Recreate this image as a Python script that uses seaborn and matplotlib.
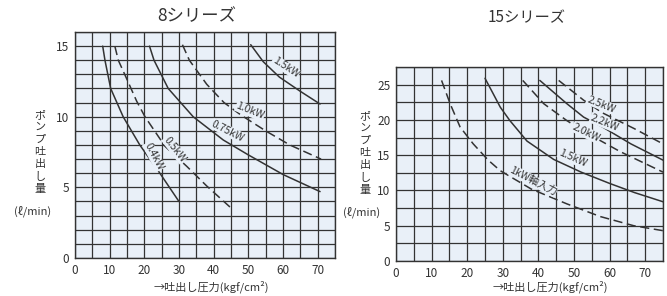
import matplotlib
matplotlib.use("Agg")
import matplotlib.pyplot as plt
from matplotlib.ticker import MultipleLocator
import seaborn as sns
import pandas as pd

# 8シリーズ  (吐出し圧力 kgf/cm², 吐出量 ℓ/min)
s8_04_x = [8.0, 8.65, 10.3, 13.9, 18.7, 24.5, 30.0]
s8_04_y = [15.0, 14.0, 12.0, 10.0, 8.0, 6.0, 4.0]
s8_05_x = [11.5, 12.5, 14.9, 17.8, 20.2, 26.0, 32.2, 38.0, 45.2]
s8_05_y = [15.0, 14.0, 12.7, 11.1, 10.0, 7.9, 6.5, 5.1, 3.5]
s8_075_x = [21.5, 22.8, 26.9, 34.1, 42.8, 50.0, 60.1, 70.7]
s8_075_y = [15.0, 14.0, 12.0, 10.0, 8.35, 7.3, 5.9, 4.7]
s8_10_x = [31.0, 33.0, 38.0, 43.0, 48.0, 55.0, 62.0, 71.0]
s8_10_y = [15.1, 14.0, 12.3, 11.0, 10.1, 9.0, 8.0, 7.0]
s8_15_x = [50.7, 54.3, 59.0, 65.0, 70.7]
s8_15_y = [15.1, 13.9, 12.8, 11.8, 10.9]

# 15シリーズ
s15_1_x = [12.8, 15.2, 18.0, 21.7, 25.9, 29.3, 38.0, 48.0, 57.4, 66.8, 75.0]
s15_1_y = [25.6, 22.3, 19.0, 16.6, 14.3, 12.8, 10.2, 8.1, 6.3, 5.0, 4.3]
s15_15_x = [25.0, 27.0, 29.3, 32.0, 36.8, 44.3, 52.0, 60.0, 67.0, 75.0]
s15_15_y = [25.9, 24.0, 21.8, 19.9, 17.0, 14.4, 12.6, 11.0, 9.7, 8.4]
s15_20_x = [35.6, 41.5, 48.0, 53.0, 63.0, 75.0]
s15_20_y = [25.6, 22.3, 19.9, 18.3, 15.5, 12.6]
s15_22_x = [40.4, 48.0, 52.7, 58.0, 66.0, 75.0]
s15_22_y = [25.6, 22.3, 20.4, 19.0, 16.6, 14.3]
s15_25_x = [45.7, 52.7, 58.0, 66.8, 75.0]
s15_25_y = [25.6, 22.8, 21.0, 18.8, 16.6]

x_ticks = [0, 10, 20, 30, 40, 50, 60, 70]
s8_yticks = [0, 5, 10, 15]
s15_yticks = [0, 5, 10, 15, 20, 25]

# (x, y, 文字, 回転)
s8_labels = [(60.8, 13.5, "1.5kW", -33), (50.5, 10.4, "1.0kW", -22),
             (44.0, 9.0, "0.75kW", -27), (28.8, 7.7, "0.5kW", -52),
             (22.8, 7.2, "0.4kW", -62)]
s15_labels = [(57.6, 22.2, "2.5kW", -22), (58.6, 19.6, "2.2kW", -22),
              (53.4, 18.2, "2.0kW", -26), (49.6, 14.6, "1.5kW", -24),
              (38.4, 11.4, "1kW軸入力", -27)]

sns.set_theme(style="white")
plt.rcParams['font.family'] = ['Noto Sans CJK JP', 'DejaVu Sans']
plt.rcParams['axes.unicode_minus'] = False

line_c = "#333333"
bg_c = "#e9f0f8"

fig = plt.figure(figsize=(6.67, 2.96), dpi=100)
ax1 = fig.add_axes([0.1124, 0.1284, 0.3898, 0.7635])
ax2 = fig.add_axes([0.5937, 0.1182, 0.4003, 0.6554])


def draw_curve(ax, xs, ys, dashed):
    d = pd.DataFrame({'x': xs, 'y': ys})
    ls = (0, (6, 3)) if dashed else '-'
    sns.lineplot(data=d, x='x', y='y', ax=ax, color=line_c, lw=1.1,
                 linestyle=ls, sort=False, estimator=None)


def style_axes(ax, ymax, ystep, yticks):
    ax.set_facecolor(bg_c)
    ax.set_xlim(0, 75)
    ax.set_ylim(0, ymax)
    ax.set_xticks(x_ticks)
    ax.set_yticks(yticks)
    ax.xaxis.set_minor_locator(MultipleLocator(5))
    ax.yaxis.set_minor_locator(MultipleLocator(ystep))
    ax.grid(True, which='both', color=line_c, lw=0.9)
    ax.tick_params(which='both', length=0, labelsize=8.5, colors='#333333')
    ax.tick_params(axis='x', pad=4)
    ax.tick_params(axis='y', pad=4)
    for sp in ax.spines.values():
        sp.set_color(line_c)
        sp.set_linewidth(1.0)
    ax.set_xlabel('')
    ax.set_ylabel('')
    ax.set_axisbelow(True)


draw_curve(ax1, s8_04_x, s8_04_y, False)
draw_curve(ax1, s8_05_x, s8_05_y, True)
draw_curve(ax1, s8_075_x, s8_075_y, False)
draw_curve(ax1, s8_10_x, s8_10_y, True)
draw_curve(ax1, s8_15_x, s8_15_y, False)
style_axes(ax1, 16, 1, s8_yticks)

draw_curve(ax2, s15_1_x, s15_1_y, True)
draw_curve(ax2, s15_15_x, s15_15_y, False)
draw_curve(ax2, s15_20_x, s15_20_y, True)
draw_curve(ax2, s15_22_x, s15_22_y, False)
draw_curve(ax2, s15_25_x, s15_25_y, True)
style_axes(ax2, 27.5, 2.5, s15_yticks)

for ax, labels in [(ax1, s8_labels), (ax2, s15_labels)]:
    for x, y, t, r in labels:
        ax.text(x, y, t, rotation=r, fontsize=7.5, color='#333333',
                ha='center', va='center', rotation_mode='anchor',
                bbox=dict(boxstyle='square,pad=0.05', fc=bg_c, ec='none'))

fig.text(197 / 667, 1 - 16 / 296, "8シリーズ", fontsize=12.5, ha='center', va='center', color='#333333')
fig.text(527 / 667, 1 - 18 / 296, "15シリーズ", fontsize=11, ha='center', va='center', color='#333333')

ylab = "\n".join("ポンプ吐出し量")
fig.text(40 / 667, 1 - 152 / 296, ylab, fontsize=8, ha='center', va='center',
         linespacing=1.3, color='#333333')
fig.text(33 / 667, 1 - 211 / 296, "(ℓ/min)", fontsize=8, ha='center', va='center', color='#333333')
fig.text(365 / 667, 1 - 153 / 296, ylab, fontsize=8, ha='center', va='center',
         linespacing=1.3, color='#333333')
fig.text(362 / 667, 1 - 212 / 296, "(ℓ/min)", fontsize=8, ha='center', va='center', color='#333333')

fig.text(211 / 667, 1 - 287 / 296, "→吐出し圧力(kgf/cm²)", fontsize=8, ha='center', va='center', color='#333333')
fig.text(550 / 667, 1 - 287 / 296, "→吐出し圧力(kgf/cm²)", fontsize=8, ha='center', va='center', color='#333333')

fig.savefig("out.png", dpi=100)
